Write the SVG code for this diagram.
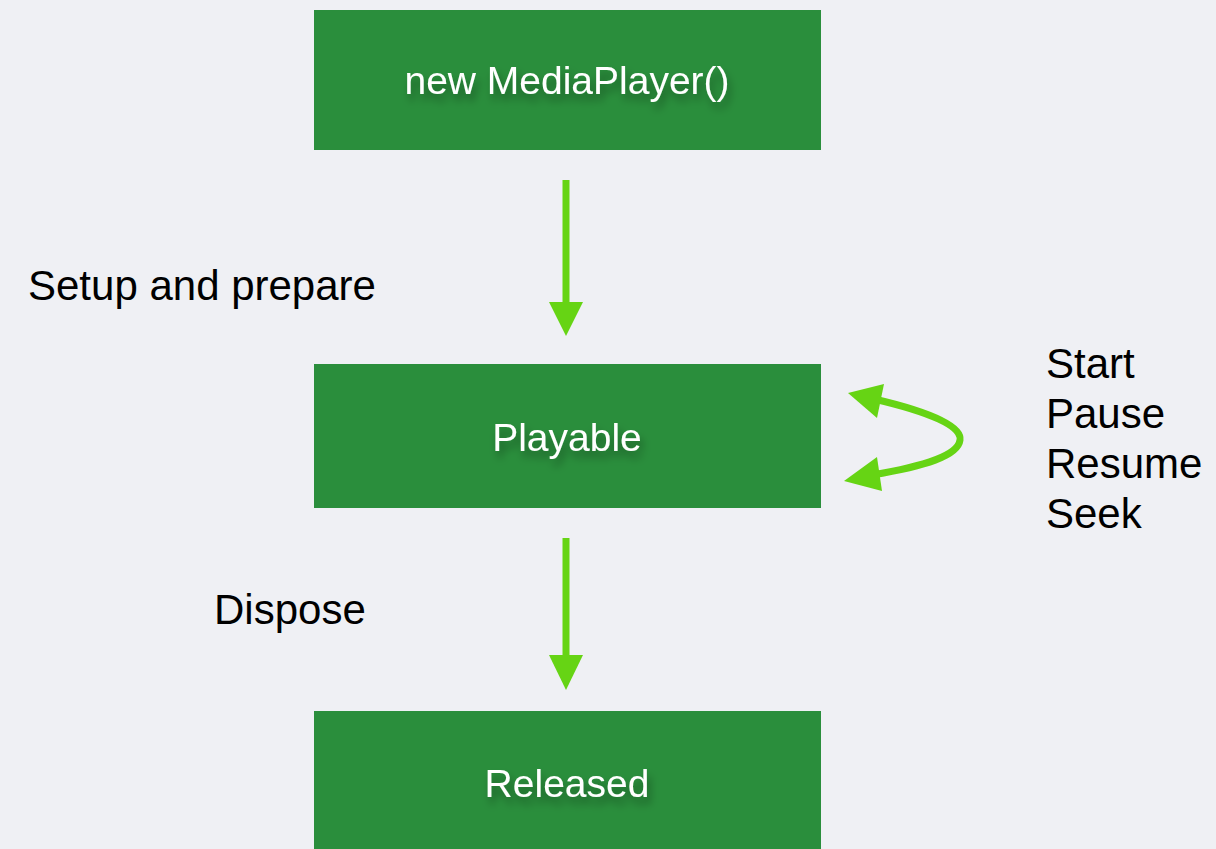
<svg xmlns="http://www.w3.org/2000/svg" width="1216" height="849" viewBox="0 0 1216 849">
<defs>
<style>
.box{fill:#2a8e3c;}
.bt{font-family:"Liberation Sans",Arial,sans-serif;font-size:39px;fill:#ffffff;text-anchor:middle;filter:url(#ts);}
.lbl{font-family:"Liberation Sans",Arial,sans-serif;font-size:42px;fill:#000000;}
.shaft{stroke:#66d414;stroke-width:7;fill:none;}
.head{fill:#66d414;}
</style>
<filter id="ts" x="-10%" y="-30%" width="120%" height="180%">
<feGaussianBlur in="SourceAlpha" stdDeviation="4" result="b"/>
<feOffset in="b" dx="3" dy="7" result="o"/>
<feComponentTransfer in="o" result="s"><feFuncA type="linear" slope="0.35"/></feComponentTransfer>
<feMerge><feMergeNode in="s"/><feMergeNode in="SourceGraphic"/></feMerge>
</filter>
</defs>
<rect width="1216" height="849" fill="#eff0f4"/>
<g id="node-new">
<rect class="box" x="314" y="10" width="507" height="140"/>
<text class="bt" x="567" y="94">new MediaPlayer()</text>
</g>
<g id="node-playable">
<rect class="box" x="314" y="364" width="507" height="144"/>
<text class="bt" x="567" y="451">Playable</text>
</g>
<g id="node-released">
<rect class="box" x="314" y="711" width="507" height="138"/>
<text class="bt" x="567" y="797">Released</text>
</g>
<g id="connectors">
<line class="shaft" x1="566" y1="180" x2="566" y2="305"/>
<polygon class="head" points="549,302 583,302 566,336"/>
<line class="shaft" x1="566" y1="538" x2="566" y2="658"/>
<polygon class="head" points="549,655 583,655 566,690"/>
<path class="shaft" d="M 874 399 C 930 412, 962 426, 960 440 C 958 456, 925 466, 872 475"/>
<polygon class="head" points="848,393 884,384 877,418"/>
<polygon class="head" points="844,481 877,457 882,491"/>
</g>
<g id="labels">
<text class="lbl" x="28" y="300">Setup and prepare</text>
<text class="lbl" x="214" y="624">Dispose</text>
<text class="lbl" x="1046" y="378">Start</text>
<text class="lbl" x="1046" y="428">Pause</text>
<text class="lbl" x="1046" y="478">Resume</text>
<text class="lbl" x="1046" y="528">Seek</text>
</g>
</svg>
